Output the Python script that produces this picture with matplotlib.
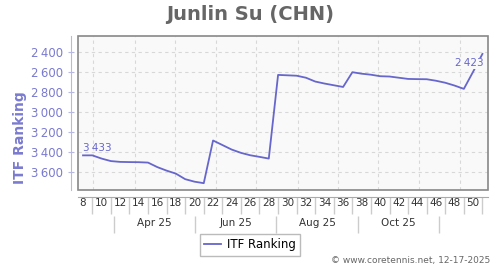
import matplotlib.pyplot as plt
from matplotlib.patches import Rectangle
import numpy as np

# weekly ITF ranking
weeks = list(range(8, 52))
ranking = [3433, 3433, 3465, 3490, 3498, 3500, 3501, 3505, 3550, 3585,
           3615, 3670, 3695, 3710, 3285, 3330, 3375, 3408, 3432, 3448,
           3465, 2632, 2636, 2640, 2660, 2698, 2718, 2735, 2752, 2605,
           2620, 2630, 2645, 2648, 2660, 2672, 2674, 2675, 2690, 2710,
           2738, 2771, 2600, 2423]
week_labels = [str(w) for w in range(8, 51, 2)]
month_labels = ['Apr 25', 'Jun 25', 'Aug 25', 'Oct 25']
y_ticks = [2400, 2600, 2800, 3000, 3200, 3400, 3600]

blue = '#6666cc'
tick_blue = '#7a7ad0'
gray = '#666666'

fig = plt.figure(figsize=(5, 2.7), dpi=100)
ax = fig.add_axes([0.156, 0.297, 0.82, 0.571])
ax.set_facecolor('#f9f9f9')

ax.plot(weeks, ranking, color=blue, lw=1.3, zorder=4)
ax.set_xlim(7.46, 51.6)
ax.set_ylim(3776, 2241)

# grid
ax.set_yticks(y_ticks)
ax.set_yticklabels([f'{v:,}'.replace(',', '\u2009') for v in y_ticks])
for v in y_ticks:
    ax.axhline(v, color='#d8d8d8', lw=0.8, ls=(0, (3, 3)), zorder=1)
for g in [9.08, 13.6, 17.9, 22.3, 26.6, 31.1, 35.4, 39.8, 44.2, 48.6]:
    ax.axvline(g, color='#d8d8d8', lw=0.8, ls=(0, (3, 3)), zorder=1)

# frame
ax.add_patch(Rectangle((0, 0), 1, 1, transform=ax.transAxes, fill=False,
                       edgecolor='#888888', lw=1.2, clip_on=False, zorder=5))
ax.spines['top'].set_visible(False)
ax.spines['right'].set_visible(False)
ax.spines['left'].set_position(('outward', 5))
ax.spines['left'].set_color('#b8b8e4')
ax.spines['bottom'].set_position(('outward', 5))
ax.spines['bottom'].set_color('#aaaaaa')

ax.tick_params(axis='y', colors='#b8b8e4', labelcolor=tick_blue, labelsize=8.5,
               length=4, direction='inout', pad=4)

# week labels between separators
ax.set_xticks(np.arange(9, 52, 2))
ax.set_xticklabels([])
ax.set_xticks(np.arange(8, 51, 2), minor=True)
ax.set_xticklabels(week_labels, minor=True)
ax.tick_params(axis='x', which='major', length=12, color='#cccccc', width=1)
ax.tick_params(axis='x', which='minor', length=0, labelsize=7.5, labelcolor='#333333', pad=1)

# month row
sec = ax.secondary_xaxis('bottom')
sec.spines['bottom'].set_visible(False)
sec.set_xticks([11.3, 20.1, 28.8, 37.6, 46.3])
sec.set_xticklabels([])
sec.set_xticks([15.7, 24.45, 33.2, 41.95], minor=True)
sec.set_xticklabels(month_labels, minor=True)
sec.tick_params(axis='x', which='major', length=12, color='#cccccc', width=1)
sec.tick_params(axis='x', which='minor', length=0, labelsize=7.5, labelcolor='#333333', pad=1)
sec.spines['bottom'].set_position(('outward', 19))

# point labels
ax.annotate(f'{ranking[0]:,}'.replace(',', '\u2009'), (weeks[0], ranking[0]),
            xytext=(0, 2), textcoords='offset points', ha='left', va='bottom',
            color=blue, fontsize=7.5, zorder=6)
ax.annotate(f'{ranking[-1]:,}'.replace(',', '\u2009'), (weeks[-1], ranking[-1]),
            xytext=(1, -3), textcoords='offset points', ha='right', va='top',
            color=blue, fontsize=7.5, zorder=6,
            bbox=dict(boxstyle='square,pad=0.05', fc='#f9f9f9', ec='none'))

fig.text(0.04, 0.49, 'ITF Ranking', rotation=90, ha='center', va='center',
         color=tick_blue, fontsize=10, fontweight='bold')
fig.text(0.5, 0.948, 'Junlin Su (CHN)', ha='center', va='center',
         fontsize=14, fontweight='bold', color=gray)

leg = fig.legend(['ITF Ranking'], loc='center', bbox_to_anchor=(0.5, 0.093),
                 fontsize=8.5, frameon=True, fancybox=False, edgecolor='#aaaaaa',
                 handlelength=1.4, handletextpad=0.5, borderpad=0.4)
leg.get_frame().set_linewidth(1)

fig.text(0.98, 0.02, '\u00a9 www.coretennis.net, 12-17-2025', ha='right', va='bottom',
         fontsize=6.5, color=gray)

fig.savefig('out.png', dpi=100)
